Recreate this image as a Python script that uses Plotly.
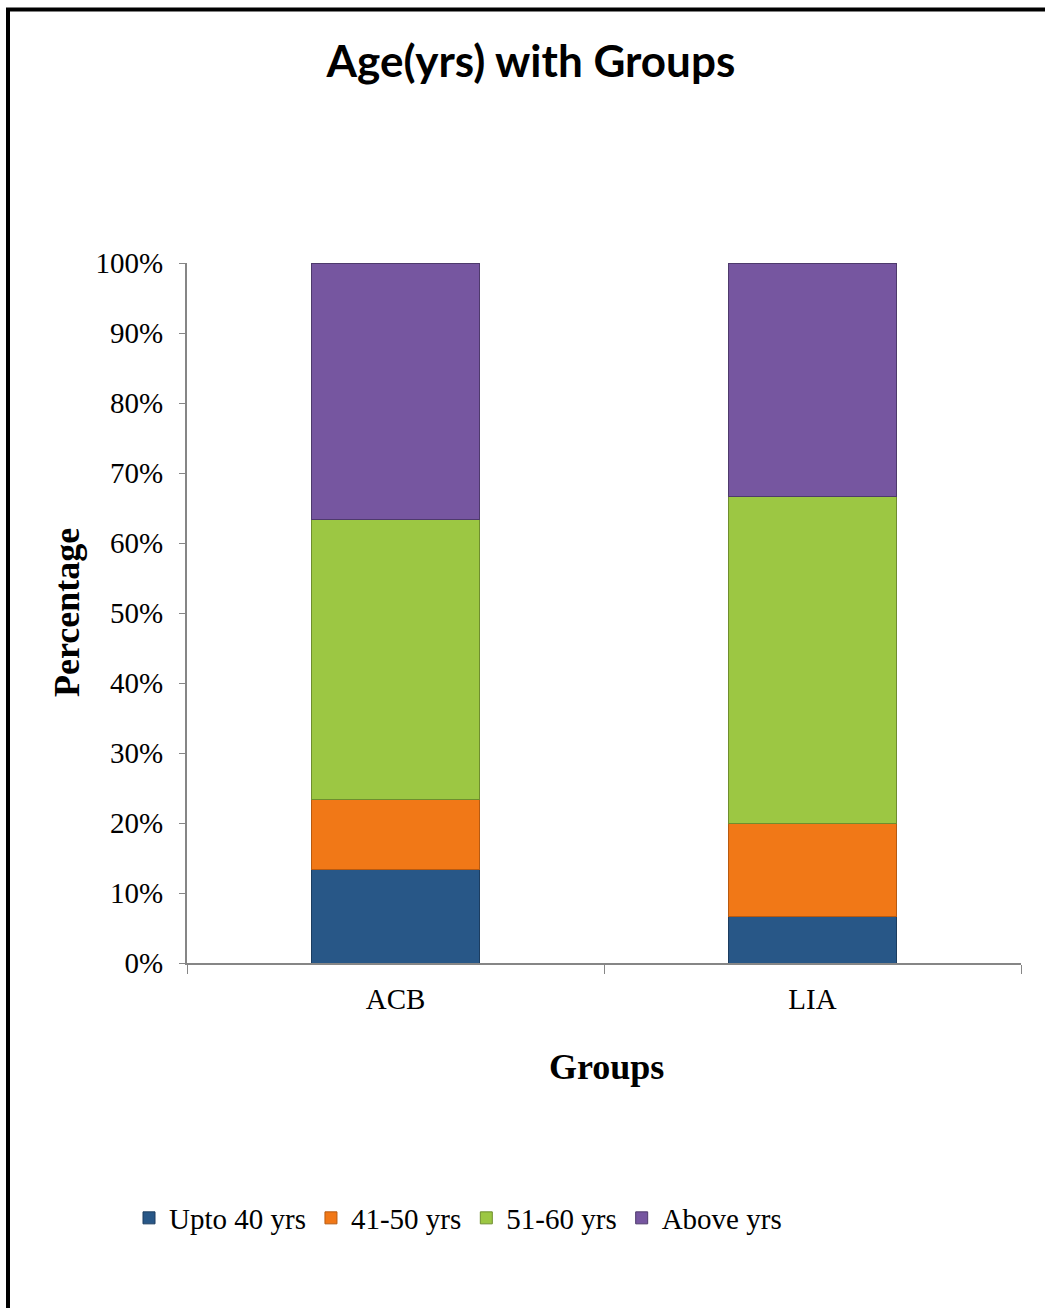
import plotly.graph_objects as go

# Data: percentage share of age bands in each group
groups = ["ACB", "LIA"]
age_bands = ["Upto 40 yrs", "41-50 yrs", "51-60 yrs", "Above yrs"]
upto_40 = [13.3, 6.7]
yrs_41_50 = [10.0, 13.3]
yrs_51_60 = [40.0, 46.7]
above = [36.7, 33.3]
y_ticks = [0, 10, 20, 30, 40, 50, 60, 70, 80, 90, 100]
y_tick_labels = [f"{v}%" for v in y_ticks]

series = [upto_40, yrs_41_50, yrs_51_60, above]
fills = ["#285787", "#F17817", "#9CC743", "#7656A0"]
edges = ["#1C3D60", "#B85A10", "#6F8E2E", "#4E3A6C"]

W, H = 1045, 1308
L, R, T, B = 187, 24, 263, 345
pw, ph = W - L - R, H - T - B

fig = go.Figure()
for name, vals, fc, ec in zip(age_bands, series, fills, edges):
    fig.add_trace(go.Bar(
        x=groups, y=vals, name=name,
        marker=dict(color=fc, line=dict(color=ec, width=1)),
        width=0.402,
    ))

serif = "Liberation Serif, Times New Roman, serif"

fig.update_layout(
    width=W, height=H,
    margin=dict(l=L, r=R, t=T, b=B),
    paper_bgcolor="white", plot_bgcolor="white",
    barmode="stack", barnorm="percent",
    showlegend=True,
    legend=dict(
        orientation="h", x=(458 - L) / pw, xanchor="center",
        y=-(1218 - 963) / ph, yanchor="middle",
        traceorder="normal",
        font=dict(family=serif, size=29, color="black"),
        itemwidth=30, tracegroupgap=0,
    ),
    title=dict(
        text="<b>Age(yrs) with Groups</b>",
        font=dict(family="Lato, Open Sans, sans-serif", size=44, color="black"),
        x=0.508, xanchor="center", xref="container",
        y=1 - 62 / H, yanchor="middle", yref="container",
    ),
    xaxis=dict(
        showline=True, linecolor="#868686", linewidth=2,
        ticks="outside", ticklen=9, tickcolor="#868686", tickwidth=1,
        tickson="boundaries",
        tickfont=dict(family=serif, size=29, color="black"),
        ticklabelstandoff=9,
        showgrid=False, zeroline=False,
    ),
    yaxis=dict(
        range=[0, 100], tickmode="array",
        tickvals=y_ticks, ticktext=y_tick_labels,
        showline=True, linecolor="#868686", linewidth=2,
        ticks="outside", ticklen=6, tickcolor="#868686", tickwidth=1,
        tickfont=dict(family=serif, size=29, color="black"),
        ticklabelstandoff=10,
        showgrid=False, zeroline=False,
    ),
    annotations=[
        dict(text="<b>Percentage</b>", textangle=-90,
             x=(67 - L) / pw, y=(963 - 613) / ph, xref="paper", yref="paper",
             xanchor="center", yanchor="middle", showarrow=False,
             font=dict(family=serif, size=36, color="black")),
        dict(text="<b>Groups</b>",
             x=(606 - L) / pw, y=-(1067 - 963) / ph, xref="paper", yref="paper",
             xanchor="center", yanchor="middle", showarrow=False,
             font=dict(family=serif, size=36, color="black")),
    ],
    shapes=[
        # outer frame of the chart
        dict(type="rect", xref="paper", yref="paper",
             x0=(8 - L) / pw, x1=(1060 - L) / pw,
             y0=-(1330 - 963) / ph, y1=1 + (T - 9.5) / ph,
             line=dict(color="black", width=4), fillcolor="rgba(0,0,0,0)",
             layer="above"),
    ],
)

fig.write_html("out.html")
